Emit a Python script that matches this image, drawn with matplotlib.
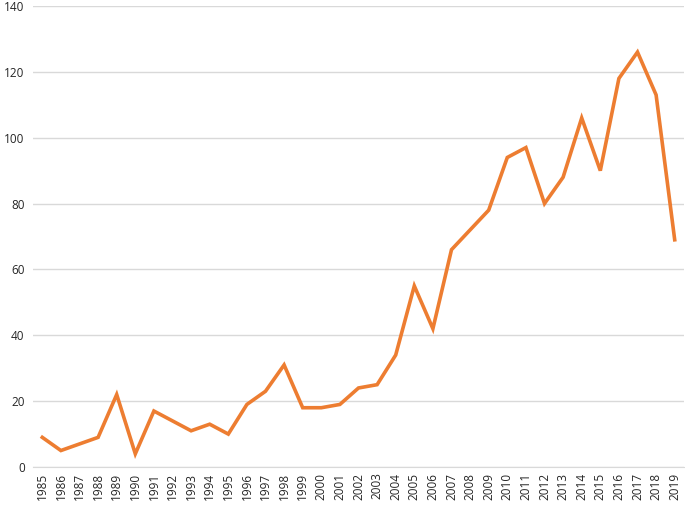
import matplotlib
matplotlib.use("Agg")
import matplotlib.pyplot as plt

years = list(range(1985, 2020))
counts = [9, 5, 7, 9, 22, 4, 17, 14, 11, 13, 10, 19, 23, 31, 18, 18, 19, 24, 25, 34,
          55, 42, 66, 72, 78, 94, 97, 80, 88, 106, 90, 118, 126, 113, 69]
y_ticks = [0, 20, 40, 60, 80, 100, 120, 140]

plt.rcParams["font.family"] = ["Open Sans", "DejaVu Sans"]

fig = plt.figure(figsize=(6.85, 5.05), dpi=100)
ax = fig.add_axes([33 / 685, 1 - 467 / 505, 651 / 685, 461 / 505])

x = list(range(len(years)))
ax.plot(x, counts, color="#ED7D31", linewidth=2.6, solid_joinstyle="miter")

ax.set_xlim(-0.5, len(years) - 0.5)
ax.set_ylim(0, 140)
ax.set_yticks(y_ticks)
ax.set_xticks(x)
ax.set_xticklabels([str(y) for y in years], rotation=90)
ax.tick_params(axis="both", length=0, labelsize=8.5, colors="#262626")
ax.tick_params(axis="x", pad=4)
ax.tick_params(axis="y", pad=6)
ax.grid(axis="y", color="#d9d9d9", linewidth=1)
ax.set_axisbelow(True)
for side in ["top", "right", "left"]:
    ax.spines[side].set_visible(False)
ax.spines["bottom"].set_color("#d9d9d9")
ax.patch.set_visible(False)

fig.savefig("out.png", dpi=100)
